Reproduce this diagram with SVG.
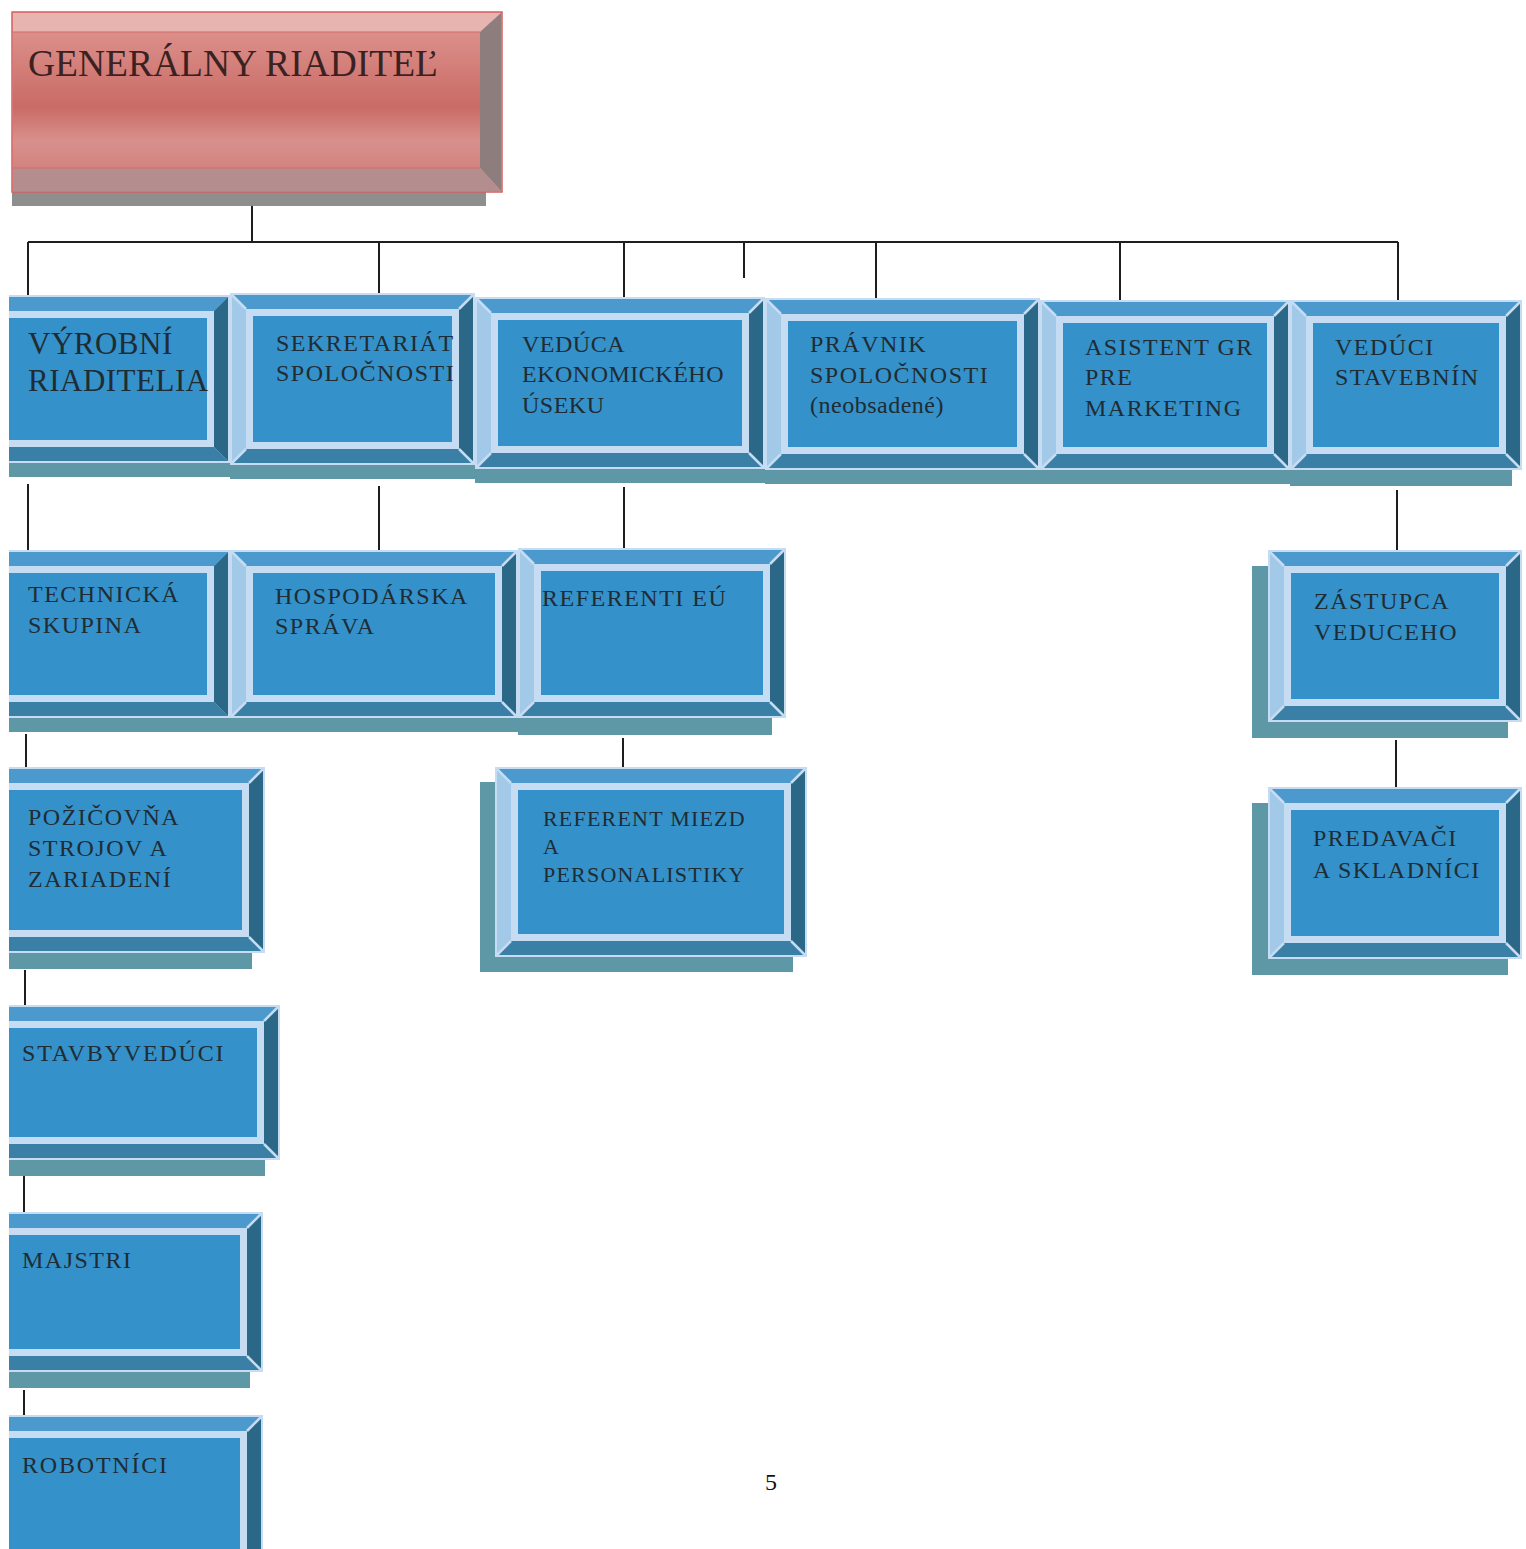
<svg xmlns="http://www.w3.org/2000/svg" width="1526" height="1549" viewBox="0 0 1526 1549">
<style>
.out{fill:#c6dcf2}
.bt{fill:#4c99cd}
.bb{fill:#3a7fa6}
.bl{fill:#a3c9e9}
.br{fill:#2b6887}
.face{fill:#3591c9}
.shd{fill:#5e97a6}
.cl{stroke:#c6dcf2;stroke-width:2.5;fill:none}
.t{font-family:"Liberation Serif","Times New Roman",serif;fill:#1f2c33;font-size:24px;letter-spacing:1.5px}
.con{stroke:#1e1e1e;stroke-width:2;fill:none}
</style>
<defs>
<linearGradient id="redg" x1="0" y1="0" x2="0" y2="1">
<stop offset="0" stop-color="#dc8f8a"/>
<stop offset="0.55" stop-color="#c96b66"/>
<stop offset="0.8" stop-color="#d8908c"/>
<stop offset="1" stop-color="#d2837f"/>
</linearGradient>
<clipPath id="clipL"><rect x="9" y="0" width="1517" height="1549"/></clipPath>
</defs>
<rect width="1526" height="1549" fill="#ffffff"/>

<g id="connectors">
<path class="con" d="M252,192 V242 M28,242 H1398 M28,242 V296 M379,242 V294 M624,242 V298 M744,242 V278 M876,242 V299 M1120,242 V300 M1398,242 V301 M28,484 V551 M379,486 V551 M624,487 V549 M1397,490 V551 M26,734 V768 M623,738 V768 M1396,740 V788 M25,970 V1006 M24,1176 V1213 M24,1390 V1416"/>
</g>

<g id="n-generalny">
<rect x="12" y="188" width="474" height="18" fill="#8e8e8e"/>
<rect x="12" y="12" width="490" height="180" fill="#e9aaa8" stroke="#d46060" stroke-width="1.5"/>
<polygon points="13,13 501,13 480,32 13,32" fill="#e8b4b0"/>
<polygon points="501,13 501,191 480,168 480,32" fill="#8d7d7d"/>
<polygon points="13,168 480,168 501,191 13,191" fill="#b48e8e"/>
<rect x="13" y="32" width="467" height="136" fill="url(#redg)"/>
<path d="M13,32 H480 M13,168 H480" stroke="#d46a6a" stroke-width="1.2"/>
<text x="28" y="76" font-family="Liberation Serif, Times New Roman, serif" font-size="37.5" fill="#3a2222">GENERÁLNY RIADITEĽ</text>
</g>

<g id="n-vyrobni">
<g clip-path="url(#clipL)"><g transform="translate(-20,295)">
<rect class="shd" x="0" y="14" width="250" height="168"/>
<rect class="out" width="250" height="168"/>
<polygon class="bt" points="2,2 248,2 234,16 16,16"/>
<polygon class="bb" points="2,166 248,166 234,152 16,152"/>
<polygon class="bl" points="2,2 16,16 16,152 2,166"/>
<polygon class="br" points="248,2 234,16 234,152 248,166"/>
<rect class="face" x="23" y="23" width="204" height="122"/>
</g></g>
<text class="t" x="28" y="354" style="font-size:31px;letter-spacing:0.5px">VÝROBNÍ</text>
<text class="t" x="28" y="391" style="font-size:31px;letter-spacing:0.5px">RIADITELIA</text>
</g>

<g id="n-sekretariat">
<g transform="translate(230,293)">
<rect class="shd" x="0" y="14" width="245" height="172"/>
<rect class="out" width="245" height="172"/>
<polygon class="bt" points="2,2 243,2 229,16 16,16"/>
<polygon class="bb" points="2,170 243,170 229,156 16,156"/>
<polygon class="bl" points="2,2 16,16 16,156 2,170"/>
<polygon class="br" points="243,2 229,16 229,156 243,170"/>
<path class="cl" d="M2,2 L16,16 M243,2 L229,16 M2,170 L16,156 M243,170 L229,156"/>
<rect class="face" x="23" y="23" width="199" height="126"/>
</g>
<text class="t" x="276" y="351">SEKRETARIÁT</text>
<text class="t" x="276" y="381">SPOLOČNOSTI</text>
</g>

<g id="n-veduca-eko">
<g transform="translate(475,297)">
<rect class="shd" x="0" y="14" width="290" height="172"/>
<rect class="out" width="290" height="172"/>
<polygon class="bt" points="2,2 288,2 274,16 16,16"/>
<polygon class="bb" points="2,170 288,170 274,156 16,156"/>
<polygon class="bl" points="2,2 16,16 16,156 2,170"/>
<polygon class="br" points="288,2 274,16 274,156 288,170"/>
<path class="cl" d="M2,2 L16,16 M288,2 L274,16 M2,170 L16,156 M288,170 L274,156"/>
<rect class="face" x="23" y="23" width="244" height="126"/>
</g>
<text class="t" x="522" y="352" style="letter-spacing:0.5px">VEDÚCA</text>
<text class="t" x="522" y="382" style="letter-spacing:0.5px">EKONOMICKÉHO</text>
<text class="t" x="522" y="413" style="letter-spacing:0.5px">ÚSEKU</text>
</g>

<g id="n-pravnik">
<g transform="translate(765,298)">
<rect class="shd" x="0" y="14" width="275" height="172"/>
<rect class="out" width="275" height="172"/>
<polygon class="bt" points="2,2 273,2 259,16 16,16"/>
<polygon class="bb" points="2,170 273,170 259,156 16,156"/>
<polygon class="bl" points="2,2 16,16 16,156 2,170"/>
<polygon class="br" points="273,2 259,16 259,156 273,170"/>
<path class="cl" d="M2,2 L16,16 M273,2 L259,16 M2,170 L16,156 M273,170 L259,156"/>
<rect class="face" x="23" y="23" width="229" height="126"/>
</g>
<text class="t" x="810" y="352">PRÁVNIK</text>
<text class="t" x="810" y="383">SPOLOČNOSTI</text>
<text class="t" x="810" y="413" style="letter-spacing:0.5px">(neobsadené)</text>
</g>

<g id="n-asistent">
<g transform="translate(1040,300)">
<rect class="shd" x="0" y="14" width="250" height="170"/>
<rect class="out" width="250" height="170"/>
<polygon class="bt" points="2,2 248,2 234,16 16,16"/>
<polygon class="bb" points="2,168 248,168 234,154 16,154"/>
<polygon class="bl" points="2,2 16,16 16,154 2,168"/>
<polygon class="br" points="248,2 234,16 234,154 248,168"/>
<path class="cl" d="M2,2 L16,16 M248,2 L234,16 M2,168 L16,154 M248,168 L234,154"/>
<rect class="face" x="23" y="23" width="204" height="124"/>
</g>
<text class="t" x="1085" y="355">ASISTENT GR</text>
<text class="t" x="1085" y="385">PRE</text>
<text class="t" x="1085" y="416">MARKETING</text>
</g>

<g id="n-veduci-stavebnin">
<g transform="translate(1290,300)">
<rect class="shd" x="0" y="14" width="222" height="172"/>
<rect class="out" width="232" height="170"/>
<polygon class="bt" points="2,2 230,2 216,16 16,16"/>
<polygon class="bb" points="2,168 230,168 216,154 16,154"/>
<polygon class="bl" points="2,2 16,16 16,154 2,168"/>
<polygon class="br" points="230,2 216,16 216,154 230,168"/>
<path class="cl" d="M2,2 L16,16 M230,2 L216,16 M2,168 L16,154 M230,168 L216,154"/>
<rect class="face" x="23" y="23" width="186" height="124"/>
</g>
<text class="t" x="1335" y="355">VEDÚCI</text>
<text class="t" x="1335" y="385">STAVEBNÍN</text>
</g>

<g id="n-technicka">
<g clip-path="url(#clipL)"><g transform="translate(-20,550)">
<rect class="shd" x="0" y="14" width="250" height="168"/>
<rect class="out" width="250" height="168"/>
<polygon class="bt" points="2,2 248,2 234,16 16,16"/>
<polygon class="bb" points="2,166 248,166 234,152 16,152"/>
<polygon class="bl" points="2,2 16,16 16,152 2,166"/>
<polygon class="br" points="248,2 234,16 234,152 248,166"/>
<rect class="face" x="23" y="23" width="204" height="122"/>
</g></g>
<text class="t" x="28" y="602">TECHNICKÁ</text>
<text class="t" x="28" y="633">SKUPINA</text>
</g>

<g id="n-hospodarska">
<g transform="translate(230,550)">
<rect class="shd" x="0" y="14" width="288" height="168"/>
<rect class="out" width="288" height="168"/>
<polygon class="bt" points="2,2 286,2 272,16 16,16"/>
<polygon class="bb" points="2,166 286,166 272,152 16,152"/>
<polygon class="bl" points="2,2 16,16 16,152 2,166"/>
<polygon class="br" points="286,2 272,16 272,152 286,166"/>
<path class="cl" d="M2,2 L16,16 M286,2 L272,16 M2,166 L16,152 M286,166 L272,152"/>
<rect class="face" x="23" y="23" width="242" height="122"/>
</g>
<text class="t" x="275" y="604">HOSPODÁRSKA</text>
<text class="t" x="275" y="634">SPRÁVA</text>
</g>

<g id="n-referenti-eu">
<g transform="translate(518,548)">
<rect class="shd" x="0" y="16" width="254" height="171"/>
<rect class="out" width="268" height="170"/>
<polygon class="bt" points="2,2 266,2 252,16 16,16"/>
<polygon class="bb" points="2,168 266,168 252,154 16,154"/>
<polygon class="bl" points="2,2 16,16 16,154 2,168"/>
<polygon class="br" points="266,2 252,16 252,154 266,168"/>
<path class="cl" d="M2,2 L16,16 M266,2 L252,16 M2,168 L16,154 M266,168 L252,154"/>
<rect class="face" x="23" y="23" width="222" height="124"/>
</g>
<text class="t" x="542" y="606">REFERENTI  EÚ</text>
</g>

<g id="n-zastupca">
<g transform="translate(1268,550)">
<rect class="shd" x="-16" y="16" width="256" height="172"/>
<rect class="out" width="254" height="172"/>
<polygon class="bt" points="2,2 252,2 238,16 16,16"/>
<polygon class="bb" points="2,170 252,170 238,156 16,156"/>
<polygon class="bl" points="2,2 16,16 16,156 2,170"/>
<polygon class="br" points="252,2 238,16 238,156 252,170"/>
<path class="cl" d="M2,2 L16,16 M252,2 L238,16 M2,170 L16,156 M252,170 L238,156"/>
<rect class="face" x="23" y="23" width="208" height="126"/>
</g>
<text class="t" x="1314" y="609">ZÁSTUPCA</text>
<text class="t" x="1314" y="640">VEDUCEHO</text>
</g>

<g id="n-pozicovna">
<g clip-path="url(#clipL)"><g transform="translate(-20,767)">
<rect class="shd" x="0" y="16" width="272" height="186"/>
<rect class="out" width="285" height="186"/>
<polygon class="bt" points="2,2 283,2 269,16 16,16"/>
<polygon class="bb" points="2,184 283,184 269,170 16,170"/>
<polygon class="bl" points="2,2 16,16 16,170 2,184"/>
<polygon class="br" points="283,2 269,16 269,170 283,184"/>
<path class="cl" d="M283,2 L269,16 M283,184 L269,170"/>
<rect class="face" x="23" y="23" width="239" height="140"/>
</g></g>
<text class="t" x="28" y="825">POŽIČOVŇA</text>
<text class="t" x="28" y="856">STROJOV A</text>
<text class="t" x="28" y="887">ZARIADENÍ</text>
</g>

<g id="n-referent-miezd">
<g transform="translate(495,767)">
<rect class="shd" x="-15" y="15" width="313" height="190"/>
<rect class="out" width="312" height="190"/>
<polygon class="bt" points="2,2 310,2 296,16 16,16"/>
<polygon class="bb" points="2,188 310,188 296,174 16,174"/>
<polygon class="bl" points="2,2 16,16 16,174 2,188"/>
<polygon class="br" points="310,2 296,16 296,174 310,188"/>
<path class="cl" d="M2,2 L16,16 M310,2 L296,16 M2,188 L16,174 M310,188 L296,174"/>
<rect class="face" x="23" y="23" width="266" height="144"/>
</g>
<text class="t" x="543" y="826" style="font-size:22px;letter-spacing:1.2px">REFERENT MIEZD</text>
<text class="t" x="543" y="854" style="font-size:22px;letter-spacing:1.2px">A</text>
<text class="t" x="543" y="882" style="font-size:22px;letter-spacing:1.2px">PERSONALISTIKY</text>
</g>

<g id="n-predavaci">
<g transform="translate(1268,787)">
<rect class="shd" x="-16" y="16" width="256" height="172"/>
<rect class="out" width="254" height="172"/>
<polygon class="bt" points="2,2 252,2 238,16 16,16"/>
<polygon class="bb" points="2,170 252,170 238,156 16,156"/>
<polygon class="bl" points="2,2 16,16 16,156 2,170"/>
<polygon class="br" points="252,2 238,16 238,156 252,170"/>
<path class="cl" d="M2,2 L16,16 M252,2 L238,16 M2,170 L16,156 M252,170 L238,156"/>
<rect class="face" x="23" y="23" width="208" height="126"/>
</g>
<text class="t" x="1313" y="846">PREDAVAČI</text>
<text class="t" x="1313" y="878">A SKLADNÍCI</text>
</g>

<g id="n-stavbyveduci">
<g clip-path="url(#clipL)"><g transform="translate(-20,1005)">
<rect class="shd" x="0" y="16" width="285" height="155"/>
<rect class="out" width="300" height="155"/>
<polygon class="bt" points="2,2 298,2 284,16 16,16"/>
<polygon class="bb" points="2,153 298,153 284,139 16,139"/>
<polygon class="bl" points="2,2 16,16 16,139 2,153"/>
<polygon class="br" points="298,2 284,16 284,139 298,153"/>
<path class="cl" d="M298,2 L284,16 M298,153 L284,139"/>
<rect class="face" x="23" y="23" width="254" height="109"/>
</g></g>
<text class="t" x="22" y="1061" style="letter-spacing:1.8px">STAVBYVEDÚCI</text>
</g>

<g id="n-majstri">
<g clip-path="url(#clipL)"><g transform="translate(-20,1212)">
<rect class="shd" x="0" y="16" width="270" height="160"/>
<rect class="out" width="283" height="160"/>
<polygon class="bt" points="2,2 281,2 267,16 16,16"/>
<polygon class="bb" points="2,158 281,158 267,144 16,144"/>
<polygon class="bl" points="2,2 16,16 16,144 2,158"/>
<polygon class="br" points="281,2 267,16 267,144 281,158"/>
<path class="cl" d="M281,2 L267,16 M281,158 L267,144"/>
<rect class="face" x="23" y="23" width="237" height="114"/>
</g></g>
<text class="t" x="22" y="1268">MAJSTRI</text>
</g>

<g id="n-robotnici">
<g clip-path="url(#clipL)"><g transform="translate(-20,1415)">
<rect class="out" width="283" height="200"/>
<polygon class="bt" points="2,2 281,2 267,16 16,16"/>
<polygon class="bl" points="2,2 16,16 16,184 2,198"/>
<polygon class="br" points="281,2 267,16 267,184 281,198"/>
<path class="cl" d="M281,2 L267,16"/>
<rect class="face" x="23" y="23" width="237" height="154"/>
</g></g>
<text class="t" x="22" y="1473" style="letter-spacing:1.8px">ROBOTNÍCI</text>
</g>

<text x="771" y="1490" text-anchor="middle" font-family="Liberation Serif, Times New Roman, serif" font-size="24" fill="#111">5</text>
</svg>
